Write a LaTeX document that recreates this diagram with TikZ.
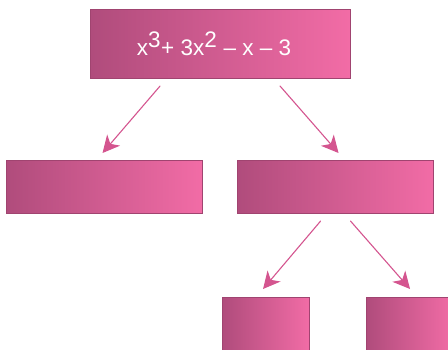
\documentclass[tikz,border=0pt]{standalone}
\usepackage{fontspec}
\setmainfont{Liberation Sans}
\usetikzlibrary{arrows.meta}
\definecolor{pinkdark}{HTML}{B04C7C}
\definecolor{pinklight}{HTML}{F26CA6}
\definecolor{pinkedge}{HTML}{A04470}
\definecolor{pinkarrow}{HTML}{D4558F}

\begin{document}
\begin{tikzpicture}[x=1pt,y=-1pt,line cap=round,
  termbox/.style={draw=pinkedge,line width=1.1pt,left color=pinkdark,right color=pinklight,
    inner sep=0pt,anchor=north west},
  splitarrow/.style={draw=pinkarrow,line width=1.1pt,-{Stealth[length=17pt,width=17pt,inset=5pt]}}]
\path[use as bounding box] (0,0) rectangle (448,350);
% boxes
\node[termbox,minimum width=260pt,minimum height=69pt] (top) at (90,9) {};
\node[text=white,font=\fontsize{22.5}{26}\selectfont] (poly) at (214,44)
  {x$^{\textrm{3}}$+ 3x$^{\textrm{2}}$ -- x -- 3};
\node[termbox,minimum width=196pt,minimum height=53pt] (left) at (6,160) {};
\node[termbox,minimum width=196pt,minimum height=53pt] (right) at (237,160) {};
\node[termbox,minimum width=87pt,minimum height=56pt] (botleft) at (222,297) {};
\node[termbox,minimum width=87pt,minimum height=56pt] (botright) at (366,297) {};
% arrows
\draw[splitarrow] ([shift={(70,7)}]top.south west) -- ([shift={(-2,-7)}]left.north);
\draw[splitarrow] ([shift={(-71,7)}]top.south east) -- ([shift={(3,-7)}]right.north);
\draw[splitarrow] ([shift={(-15,7)}]right.south) -- ([shift={(-3,-8)}]botleft.north);
\draw[splitarrow] ([shift={(15,7)}]right.south) -- ([shift={(0,-8)}]botright.north);
\end{tikzpicture}
\end{document}
